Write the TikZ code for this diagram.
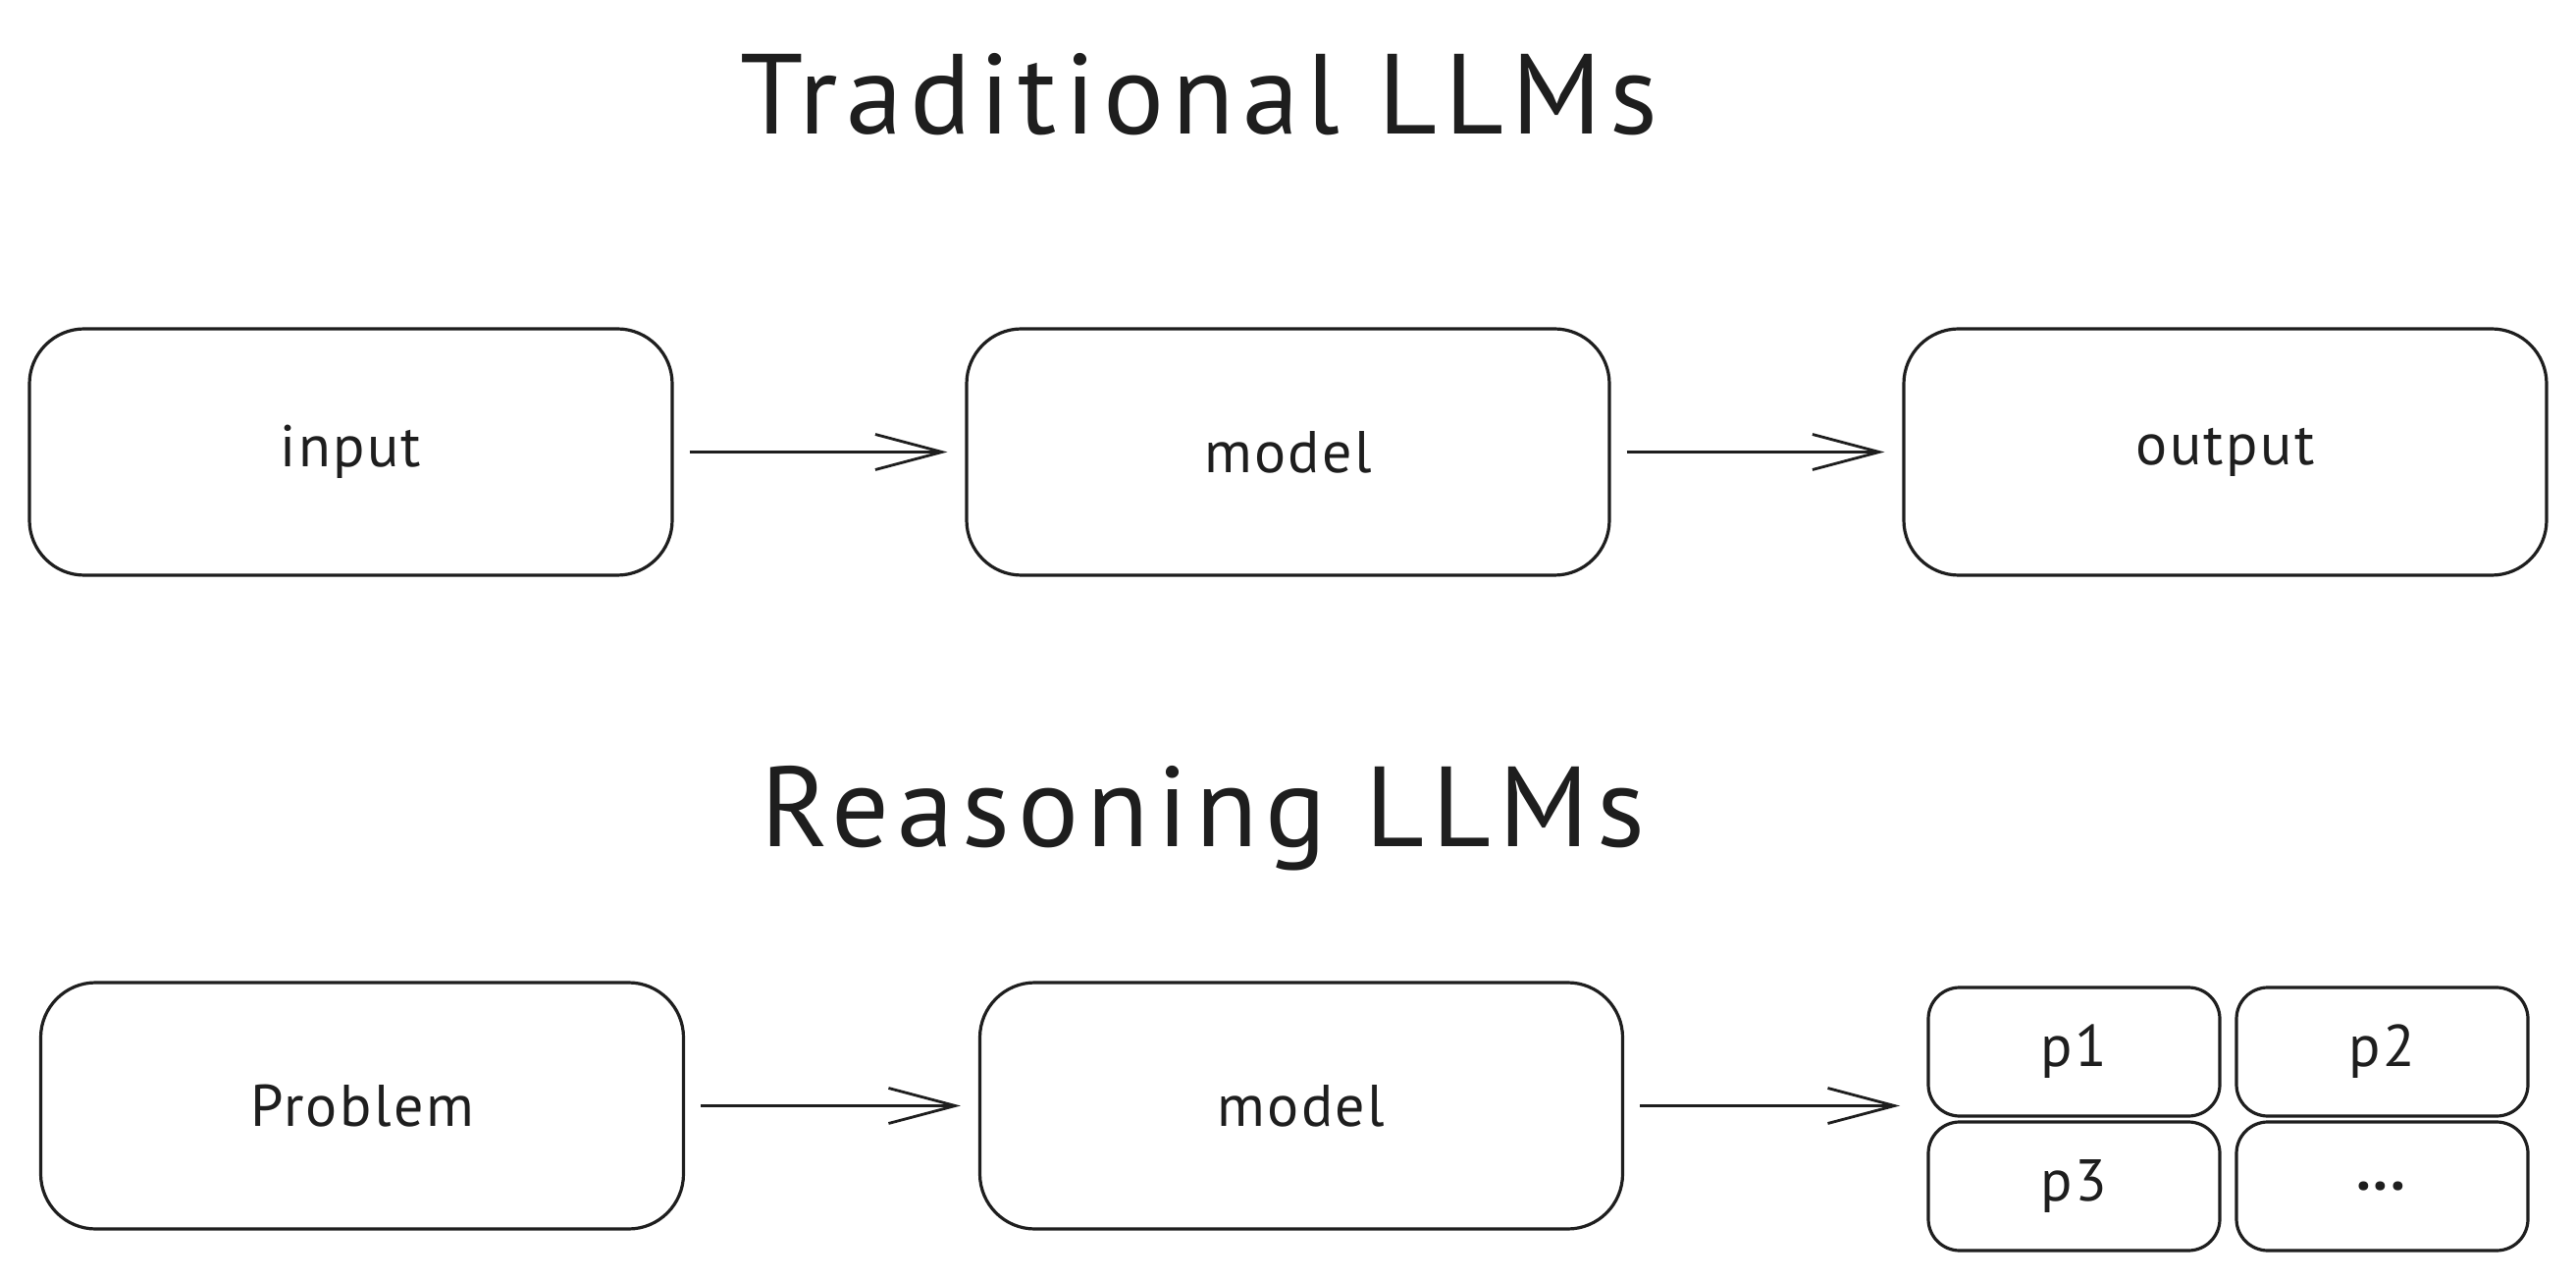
\documentclass[tikz,border=0pt]{standalone}
\usepackage{fontspec}
\setmainfont{PT Sans}
\usetikzlibrary{arrows.meta}
\definecolor{ink}{HTML}{1E1E1E}
\tikzset{
  bigbox/.style={draw=ink, line width=0.8pt, rounded corners=14pt, minimum width=163.75pt, minimum height=62.75pt, inner sep=0pt, font=\fontsize{15}{17}\selectfont\addfontfeature{LetterSpace=4}, text=ink},
  smallbox/.style={draw=ink, line width=0.8pt, rounded corners=8pt, minimum width=74.25pt, minimum height=32.75pt, inner sep=0pt, font=\fontsize{15}{17}\selectfont\addfontfeature{LetterSpace=4}, text=ink},
  title/.style={anchor=base, font=\fontsize{29}{34}\selectfont\addfontfeature{LetterSpace=7}, text=ink, inner sep=0pt},
  flow/.style={draw=ink, line width=0.7pt, -{Straight Barb[length=17pt,width=9pt,line width=0.7pt]}, shorten <=4pt, shorten >=4.5pt}
}
\begin{document}
\begin{tikzpicture}[x=0.25pt,y=-0.25pt]
\useasboundingbox[fill=white] (0,0) rectangle (2625,1304);
\node[title] (t1) at (1222,137) {Traditional LLMs};
\node[title] (t2) at (1226,862) {Reasoning LLMs};
\node[bigbox] (in) at (357.5,460.5) {input};
\node[bigbox] (m1) at (1312.5,460.5) {model};
\node[bigbox] (out) at (2267.5,460.5) {output};
\draw[flow] (in) -- (m1);
\draw[flow] (m1) -- (out);
\node[bigbox] (pb) at (369,1126.5) {Problem};
\node[bigbox] (m2) at (1326,1126.5) {model};
\node[smallbox] (p1) at (2113.5,1071.5) {p1};
\node[smallbox] (p2) at (2427.5,1071.5) {p2};
\node[smallbox] (p3) at (2113.5,1208.5) {p3};
\node[smallbox] (pd) at (2427.5,1208.5) {\textbf{...}};
\coordinate (grp) at (1954,1126.5);
\draw[flow] (pb) -- (m2);
\draw[flow] (m2.east) -- (grp);
\end{tikzpicture}
\end{document}
